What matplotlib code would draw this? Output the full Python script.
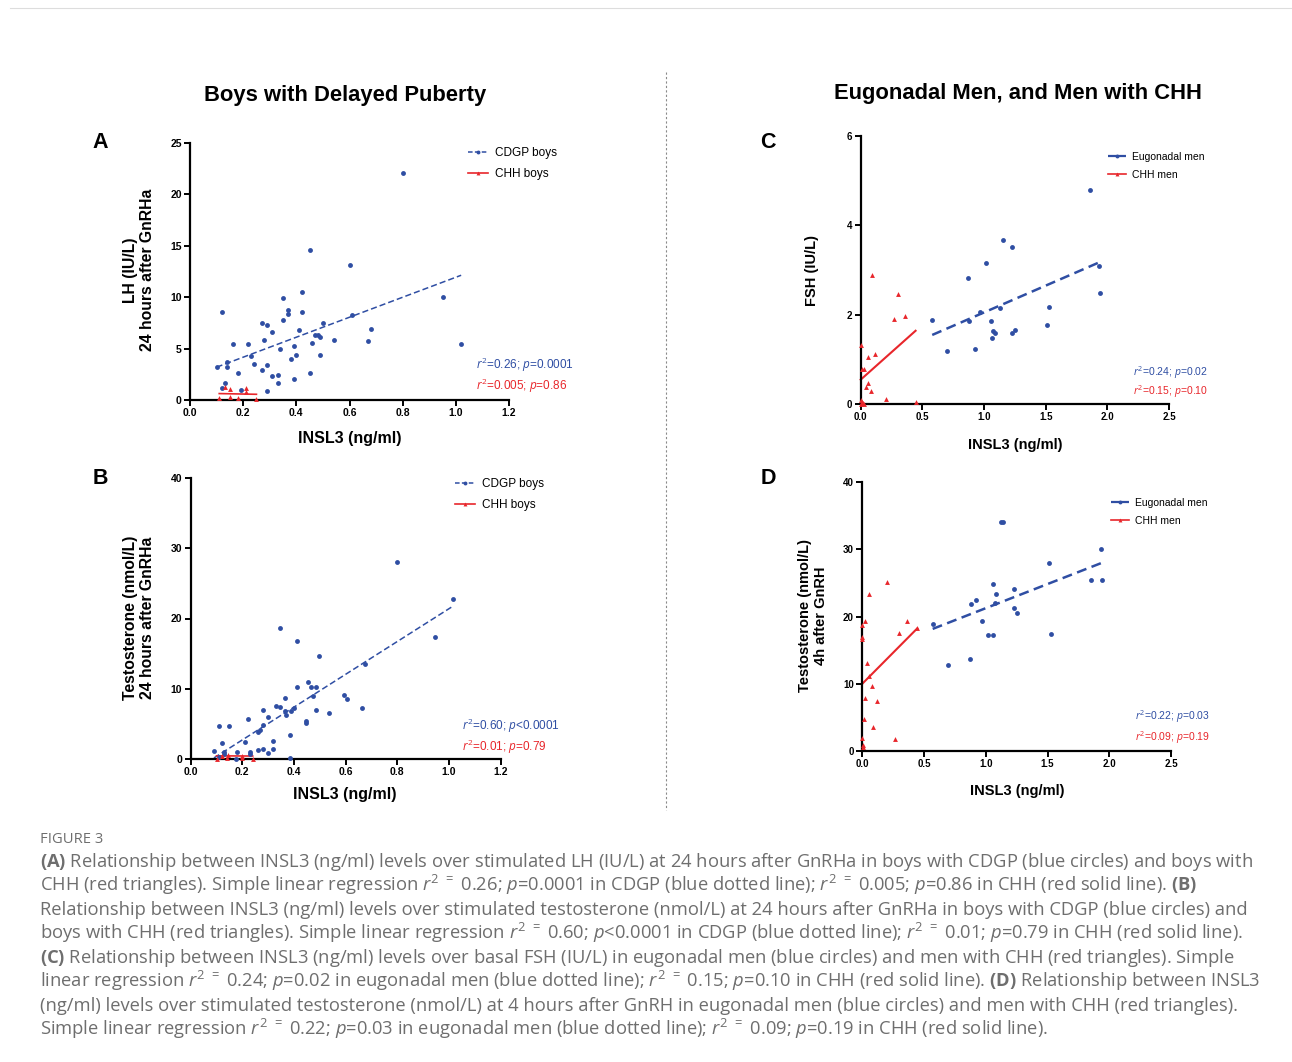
import matplotlib
matplotlib.use("Agg")
import matplotlib.pyplot as plt
from matplotlib.lines import Line2D
import numpy as np

plt.rcParams['font.family'] = ['Liberation Sans', 'DejaVu Sans']
plt.rcParams['mathtext.fontset'] = 'custom'
plt.rcParams['mathtext.rm'] = 'Open Sans'
plt.rcParams['mathtext.it'] = 'Open Sans:italic'
plt.rcParams['mathtext.bf'] = 'Open Sans:bold'

BLUE = "#2f4ea3"
RED = "#e8262b"
GREY = "#6e6e6e"

W, H = 1292, 1062

# ---- panel A: INSL3 vs LH at 24 h after GnRHa (boys) ----
a_cdgp_x = [0.10, 0.12, 0.14, 0.14, 0.16, 0.13, 0.12, 0.18, 0.19, 0.22, 0.23, 0.24, 0.27, 0.28, 0.29,
            0.27, 0.29, 0.29, 0.31, 0.31, 0.33, 0.33, 0.34, 0.35, 0.35, 0.37, 0.37, 0.38, 0.39, 0.39,
            0.40, 0.41, 0.42, 0.42, 0.45, 0.45, 0.46, 0.47, 0.48, 0.49, 0.49, 0.50, 0.54, 0.60, 0.61,
            0.67, 0.68, 0.80, 0.95, 1.02]
a_cdgp_y = [3.2, 8.6, 3.7, 3.2, 5.4, 1.7, 1.2, 2.6, 1.0, 5.4, 4.3, 3.5, 7.5, 5.8, 7.3,
            2.9, 3.4, 0.9, 6.6, 2.3, 2.4, 1.7, 5.0, 7.8, 9.9, 8.8, 8.4, 4.0, 5.3, 2.0,
            4.4, 6.8, 10.5, 8.6, 14.6, 2.6, 5.5, 6.3, 6.3, 6.1, 4.4, 7.5, 5.8, 13.1, 8.3,
            5.7, 6.9, 22.1, 10.0, 5.4]
a_chh_x = [0.13, 0.15, 0.21, 0.21, 0.11, 0.15, 0.18, 0.25]
a_chh_y = [1.3, 1.1, 1.2, 0.75, 0.15, 0.25, 0.15, 0.1]
a_fit_cdgp = (9.72, 2.22)     # slope, intercept
a_fit_chh = (-0.5, 0.68)

# ---- panel B: INSL3 vs testosterone at 24 h after GnRHa (boys) ----
b_cdgp_x = [0.09, 0.11, 0.12, 0.13, 0.11, 0.13, 0.15, 0.175, 0.18, 0.21, 0.22, 0.23, 0.23, 0.26, 0.26,
            0.27, 0.28, 0.28, 0.28, 0.30, 0.30, 0.32, 0.32, 0.33, 0.345, 0.345, 0.365, 0.365, 0.37, 0.385,
            0.385, 0.39, 0.40, 0.41, 0.41, 0.445, 0.445, 0.455, 0.465, 0.475, 0.485, 0.485, 0.495, 0.535,
            0.595, 0.605, 0.665, 0.675, 0.80, 0.945, 1.015]
b_cdgp_y = [1.2, 4.7, 2.3, 1.05, 0.3, 0.75, 4.7, 0.05, 1.0, 2.4, 5.65, 1.0, 0.75, 1.3, 3.85,
            4.1, 7.0, 4.85, 1.4, 6.0, 0.8, 2.6, 1.4, 7.6, 7.4, 18.6, 8.65, 6.9, 6.2, 3.4,
            0.15, 6.9, 7.2, 10.2, 16.8, 5.4, 5.1, 10.9, 10.3, 8.9, 10.3, 7.0, 14.7, 6.6,
            9.1, 8.5, 7.2, 13.5, 28.0, 17.3, 22.8]
b_chh_x = [0.10, 0.12, 0.14, 0.145, 0.20, 0.20, 0.24]
b_chh_y = [0.05, 0.45, 0.1, 0.5, 0.45, 0.1, 0.05]
b_fit_cdgp = (23.35, -1.95)
b_fit_chh = (-0.2, 0.47)

# ---- panel C: INSL3 vs basal FSH (men) ----
c_eug_x = [0.58, 0.70, 0.87, 0.88, 0.93, 0.97, 1.02, 1.06, 1.065, 1.075, 1.085, 1.13, 1.15, 1.23,
           1.23, 1.25, 1.51, 1.53, 1.86, 1.93, 1.94]
c_eug_y = [1.87, 1.19, 2.83, 1.86, 1.24, 2.06, 3.16, 1.85, 1.48, 1.63, 1.60, 2.16, 3.68, 3.51,
           1.59, 1.66, 1.76, 2.18, 4.80, 3.09, 2.49]
c_chh_x = [0.09, 0.30, 0.36, 0.27, 0.003, 0.12, 0.06, 0.01, 0.025, 0.06, 0.04, 0.08, 0.205, 0.445,
           0.0, 0.01, 0.02, 0.005, 0.03]
c_chh_y = [2.89, 2.47, 1.96, 1.90, 1.32, 1.12, 1.06, 0.78, 0.78, 0.48, 0.37, 0.28, 0.12, 0.04,
           0.1, 0.05, 0.03, 0.0, 0.01]
c_fit_eug = (1.20, 0.85)
c_fit_chh = (2.46, 0.545)

# ---- panel D: INSL3 vs testosterone at 4 h after GnRH (men) ----
d_eug_x = [0.57, 0.69, 0.87, 0.88, 0.92, 0.97, 1.02, 1.055, 1.06, 1.075, 1.08, 1.12, 1.14, 1.23,
           1.23, 1.25, 1.51, 1.53, 1.85, 1.93, 1.94]
d_eug_y = [18.9, 12.85, 13.75, 21.9, 22.4, 19.4, 17.3, 24.9, 17.3, 22.0, 23.4, 34.0, 34.0, 24.1,
           21.2, 20.55, 27.9, 17.4, 25.5, 30.0, 25.4]
d_chh_x = [0.20, 0.055, 0.02, 0.0, 0.36, 0.30, 0.0, 0.0, 0.035, 0.075, 0.02, 0.115, 0.01, 0.09,
           0.265, 0.0, 0.005, 0.005, 0.055, 0.445]
d_chh_y = [25.1, 23.3, 19.35, 18.8, 19.4, 17.6, 17.0, 16.6, 13.15, 9.6, 7.85, 7.45, 4.8, 3.5,
           1.75, 2.0, 0.95, 0.65, 11.1, 18.3]
d_fit_eug = (7.17, 14.07)
d_fit_chh = (18.5, 10.0)

caption_lines = [
    r"$\mathbf{(A)}$ Relationship between INSL3 (ng/ml) levels over stimulated LH (IU/L) at 24 hours after GnRHa in boys with CDGP (blue circles) and boys with",
    r"CHH (red triangles). Simple linear regression $\mathit{r}^{2}$ ${}^{=}$ 0.26; $\mathit{p}$=0.0001 in CDGP (blue dotted line); $\mathit{r}^{2}$ ${}^{=}$ 0.005; $\mathit{p}$=0.86 in CHH (red solid line). $\mathbf{(B)}$",
    r"Relationship between INSL3 (ng/ml) levels over stimulated testosterone (nmol/L) at 24 hours after GnRHa in boys with CDGP (blue circles) and",
    r"boys with CHH (red triangles). Simple linear regression $\mathit{r}^{2}$ ${}^{=}$ 0.60; $\mathit{p}$<0.0001 in CDGP (blue dotted line); $\mathit{r}^{2}$ ${}^{=}$ 0.01; $\mathit{p}$=0.79 in CHH (red solid line).",
    r"$\mathbf{(C)}$ Relationship between INSL3 (ng/ml) levels over basal FSH (IU/L) in eugonadal men (blue circles) and men with CHH (red triangles). Simple",
    r"linear regression $\mathit{r}^{2}$ ${}^{=}$ 0.24; $\mathit{p}$=0.02 in eugonadal men (blue dotted line); $\mathit{r}^{2}$ ${}^{=}$ 0.15; $\mathit{p}$=0.10 in CHH (red solid line). $\mathbf{(D)}$ Relationship between INSL3",
    r"(ng/ml) levels over stimulated testosterone (nmol/L) at 4 hours after GnRH in eugonadal men (blue circles) and men with CHH (red triangles).",
    r"Simple linear regression $\mathit{r}^{2}$ ${}^{=}$ 0.22; $\mathit{p}$=0.03 in eugonadal men (blue dotted line); $\mathit{r}^{2}$ ${}^{=}$ 0.09; $\mathit{p}$=0.19 in CHH (red solid line).",
]


def fx(px):
    return px / W


def fy(py):
    return 1 - py / H


fig = plt.figure(figsize=(W / 100, H / 100), dpi=100)


def panel(box, bx, by, rx, ry, bfit, rfit, xmax, xstep, ymax, ystep, small, blw, bdash, rlw):
    # box = (x0, y_bottom, x1, y_top) in pixels
    x0, yb, x1, yt = box
    ax = fig.add_axes([fx(x0), fy(yb), fx(x1 - x0), (yb - yt) / H])
    ax.set_xlim(0, xmax)
    ax.set_ylim(0, ymax)
    ax.set_xticks(np.arange(0, xmax + 1e-9, xstep))
    ax.set_yticks(np.arange(0, ymax + 1e-9, ystep))
    ax.xaxis.set_major_formatter(matplotlib.ticker.FormatStrFormatter('%.1f'))
    for s in ['top', 'right']:
        ax.spines[s].set_visible(False)
    for s in ['left', 'bottom']:
        ax.spines[s].set_linewidth(1.6)
    fs = 7.0 if small else 7.5
    ax.tick_params(length=4, width=1.4, labelsize=fs, pad=2)
    for lab in ax.get_xticklabels() + ax.get_yticklabels():
        lab.set_fontweight('bold')
    ax.patch.set_alpha(0)

    ms = 3.5
    ax.plot(bx, by, 'o', color=BLUE, ms=ms, mec='none', clip_on=False, zorder=3)
    ax.plot(rx, ry, '^', color=RED, ms=ms, mec='none', clip_on=False, zorder=3)
    xb = np.array([min(bx), max(bx)])
    ax.plot(xb, bfit[0] * xb + bfit[1], color=BLUE, lw=blw, ls=(0, bdash), zorder=2)
    xr = np.array([min(rx), max(rx)])
    ax.plot(xr, rfit[0] * xr + rfit[1], color=RED, lw=rlw, zorder=2, clip_on=False)
    return ax


axA = panel((190, 400, 509, 143), a_cdgp_x, a_cdgp_y, a_chh_x, a_chh_y, a_fit_cdgp, a_fit_chh,
            1.2, 0.2, 25, 5, False, 1.1, (4, 2), 1.2)
axB = panel((190.7, 759, 500.7, 478), b_cdgp_x, b_cdgp_y, b_chh_x, b_chh_y, b_fit_cdgp, b_fit_chh,
            1.2, 0.2, 40, 10, False, 1.1, (4, 2), 1.2)
axC = panel((860.7, 404, 1169, 136), c_eug_x, c_eug_y, c_chh_x, c_chh_y, c_fit_eug, c_fit_chh,
            2.5, 0.5, 6, 2, True, 1.8, (4, 2.2), 1.5)
axD = panel((862.3, 751, 1171, 482), d_eug_x, d_eug_y, d_chh_x, d_chh_y, d_fit_eug, d_fit_chh,
            2.5, 0.5, 40, 10, True, 1.8, (4, 2.2), 1.5)

# titles and panel letters
fig.text(fx(345), fy(95), "Boys with Delayed Puberty", ha='center', va='center', fontsize=15.8, fontweight='bold')
fig.text(fx(1018), fy(93), "Eugonadal Men, and Men with CHH", ha='center', va='center', fontsize=15.8, fontweight='bold')
for letter, px, py in [("A", 100, 142), ("B", 100, 479), ("C", 768, 142), ("D", 768, 479)]:
    fig.text(fx(px), fy(py), letter, ha='center', va='center', fontsize=15.5, fontweight='bold')

# axis labels
fig.text(fx(350), fy(438), "INSL3 (ng/ml)", ha='center', va='center', fontsize=11.5, fontweight='bold')
fig.text(fx(345), fy(794), "INSL3 (ng/ml)", ha='center', va='center', fontsize=11.5, fontweight='bold')
fig.text(fx(1015), fy(445), "INSL3 (ng/ml)", ha='center', va='center', fontsize=10.5, fontweight='bold')
fig.text(fx(1017), fy(791), "INSL3 (ng/ml)", ha='center', va='center', fontsize=10.5, fontweight='bold')
fig.text(fx(139), fy(270), "LH (IU/L)\n24 hours after GnRHa", rotation=90, ha='center', va='center',
         fontsize=11.3, fontweight='bold', linespacing=1.15, multialignment='center')
fig.text(fx(139), fy(618), "Testosterone (nmol/L)\n24 hours after GnRHa", rotation=90, ha='center', va='center',
         fontsize=11.3, fontweight='bold', linespacing=1.15, multialignment='center')
fig.text(fx(812), fy(270), "FSH (IU/L)", rotation=90, ha='center', va='center', fontsize=10.5, fontweight='bold')
fig.text(fx(813), fy(616), "Testosterone (nmol/L)\n4h after GnRH", rotation=90, ha='center', va='center',
         fontsize=10.5, fontweight='bold', linespacing=1.1, multialignment='center')


# legends
def add_legend(ax, labels, px, py, fs, blw, bdash):
    hb = Line2D([], [], color=BLUE, lw=blw, ls=(0, bdash), marker='o', ms=2.8, mec='none')
    hr = Line2D([], [], color=RED, lw=1.2, marker='^', ms=2.8, mec='none')
    ax.legend([hb, hr], labels, loc='upper left', bbox_to_anchor=(fx(px), fy(py)),
              bbox_transform=fig.transFigure, frameon=False, borderpad=0, borderaxespad=0,
              handlelength=1.7, handletextpad=0.6, labelspacing=0.75, fontsize=fs)


add_legend(axA, ["CDGP boys", "CHH boys"], 468, 147, 8.5, 1.1, (3, 1.5))
add_legend(axB, ["CDGP boys", "CHH boys"], 455, 478, 8.5, 1.1, (3, 1.5))
add_legend(axC, ["Eugonadal men", "CHH men"], 1108, 152, 7.5, 1.6, (4, 0.01))
add_legend(axD, ["Eugonadal men", "CHH men"], 1111, 498, 7.5, 1.6, (4, 0.01))

# regression statistics
stats = [
    (476, 365, 386, "$\\mathit{r}^{2}$=0.26; $\\mathit{p}$=0.0001", "$\\mathit{r}^{2}$=0.005; $\\mathit{p}$=0.86", 8.5),
    (462, 726, 747, "$\\mathit{r}^{2}$=0.60; $\\mathit{p}$<0.0001", "$\\mathit{r}^{2}$=0.01; $\\mathit{p}$=0.79", 8.5),
    (1133, 372, 391, "$\\mathit{r}^{2}$=0.24; $\\mathit{p}$=0.02", "$\\mathit{r}^{2}$=0.15; $\\mathit{p}$=0.10", 7.5),
    (1135, 716, 737, "$\\mathit{r}^{2}$=0.22; $\\mathit{p}$=0.03", "$\\mathit{r}^{2}$=0.09; $\\mathit{p}$=0.19", 7.5),
]
for px, py1, py2, s1, s2, fs in stats:
    fig.text(fx(px), fy(py1 + 4), s1, color=BLUE, fontsize=fs, ha='left', va='baseline')
    fig.text(fx(px), fy(py2 + 4), s2, color=RED, fontsize=fs, ha='left', va='baseline')

# divider and frame line
fig.add_artist(Line2D([fx(666), fx(666)], [fy(72), fy(810)], color='#8a8a8a', lw=0.8, ls=(0, (2, 2))))
fig.add_artist(Line2D([fx(10), fx(1292)], [fy(8), fy(8)], color='#dddddd', lw=0.8))

# caption
fig.text(fx(40), fy(843), "FIGURE 3", color=GREY, fontsize=10.6, family='Open Sans', va='baseline')
for i, line in enumerate(caption_lines):
    fig.text(fx(40), fy(867 + 24 * i), line, color=GREY, fontsize=13.2, family='Open Sans', va='baseline')

fig.savefig("out.png", dpi=100, facecolor='white')
